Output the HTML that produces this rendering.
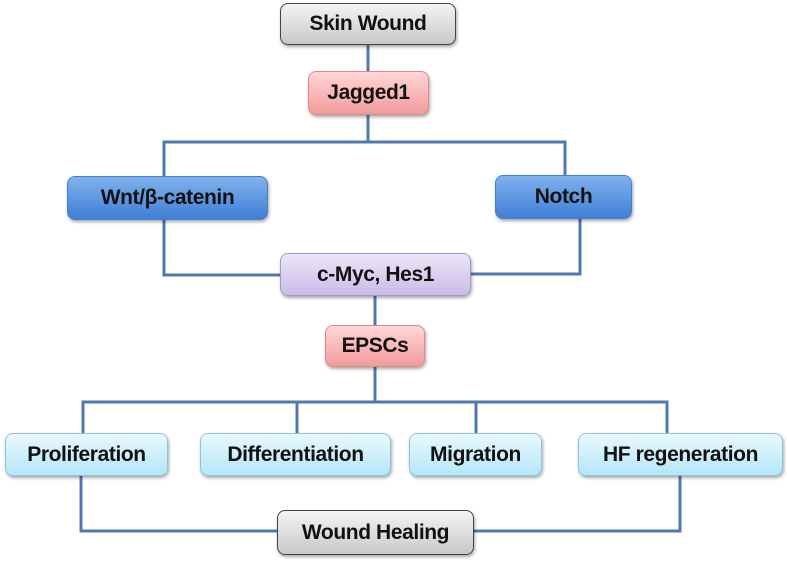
<!DOCTYPE html>
<html><head><style>
body{margin:0;width:787px;height:562px;background:#fff;position:relative;overflow:hidden;font-family:"Liberation Sans",sans-serif;}
.b{position:absolute;box-sizing:border-box;border-radius:8px;display:flex;align-items:center;justify-content:center;font-weight:bold;font-size:21px;color:#111;box-shadow:1px 2px 3px rgba(0,0,0,.35);letter-spacing:-0.4px}
.g{background:linear-gradient(#f4f4f4,#c8c8c8);border:1.5px solid #444}
.r{background:linear-gradient(#ffd6d6,#f29b9b);border:1px solid #d98a8a}
.bl{background:linear-gradient(#7fb2ee,#3f7fd6);border:1px solid #4a7fc8}
.p{background:linear-gradient(#ece6f8,#cbbbe8);border:1px solid #a898c8}
.c{background:linear-gradient(#e8f8fe,#b6e6f7);border:1px solid #8cc6dc}
svg{position:absolute;left:0;top:0}
</style></head><body>
<svg width="787" height="562"><g stroke="#4f79ad" stroke-width="3" fill="none">
<path d="M368 45V71M368 115V142M164 176V142H565V175"/>
<path d="M164 220V275H280M580 219V274H471M375 296V325M375 367V402"/>
<path d="M83 433V402H667V433M297 402V433M476 402V433"/>
<path d="M81 476V531H277M680 476V531H474"/>
</g></svg>
<div class="b g" style="left:280px;top:3px;width:176px;height:42px">Skin Wound</div>
<div class="b r" style="left:308px;top:71px;width:121px;height:44px">Jagged1</div>
<div class="b bl" style="left:67px;top:176px;width:201px;height:44px">Wnt/β-catenin</div>
<div class="b bl" style="left:495px;top:175px;width:137px;height:44px">Notch</div>
<div class="b p" style="left:280px;top:253px;width:191px;height:43px">c-Myc, Hes1</div>
<div class="b r" style="left:325px;top:325px;width:100px;height:42px">EPSCs</div>
<div class="b c" style="left:5px;top:433px;width:163px;height:43px">Proliferation</div>
<div class="b c" style="left:200px;top:433px;width:191px;height:43px">Differentiation</div>
<div class="b c" style="left:409px;top:433px;width:133px;height:43px">Migration</div>
<div class="b c" style="left:578px;top:433px;width:205px;height:43px">HF regeneration</div>
<div class="b g" style="left:277px;top:510px;width:197px;height:45px">Wound Healing</div>
</body></html>
